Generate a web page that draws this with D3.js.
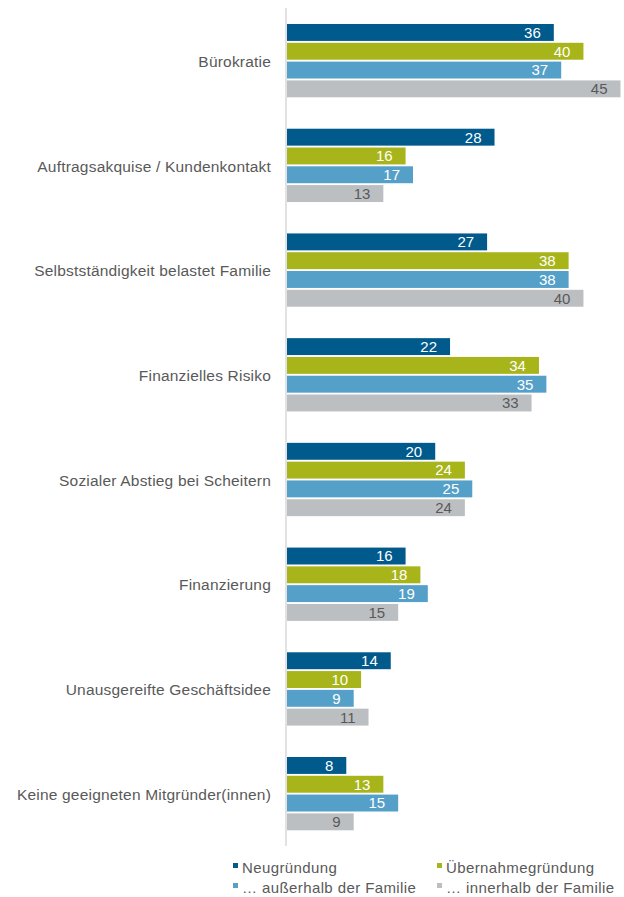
<!DOCTYPE html>
<html>
<head>
<meta charset="utf-8" />
<title>Hemmnisse</title>
<style>
* { padding: 0; margin: 0; }
body { background: #fff; }
#chart { width: 624px; height: 897px; }
text { font-family: "Liberation Sans", Arial, sans-serif; }
</style>
</head>
<body>
<div id="chart"></div>
<script src="https://cdn.jsdelivr.net/npm/d3@7/dist/d3.min.js"></script>
<script>
    var categories = ["Bürokratie", "Auftragsakquise / Kundenkontakt", "Selbstständigkeit belastet Familie",
        "Finanzielles Risiko", "Sozialer Abstieg bei Scheitern", "Finanzierung",
        "Unausgereifte Geschäftsidee", "Keine geeigneten Mitgründer(innen)"]
    var seriesNames = ["Neugründung", "Übernahmegründung", "… außerhalb der Familie", "… innerhalb der Familie"]
    var neu = [36, 28, 27, 22, 20, 16, 14, 8]
    var uebernahme = [40, 16, 38, 34, 24, 18, 10, 13]
    var ausserhalb = [37, 17, 38, 35, 25, 19, 9, 15]
    var innerhalb = [45, 13, 40, 33, 24, 15, 11, 9]
    var colors = ["#005a8c", "#a8b51a", "#55a0c8", "#bcbfc2"]
    var labelColors = ["#fff", "#fff", "#fff", "#595959"]

    var allSeries = [neu, uebernahme, ausserhalb, innerhalb]

    var svg = d3.select("#chart").append("svg").attr("width", 624).attr("height", 897)

    var x = d3.scaleLinear().domain([0, 45]).range([287, 620.5])
    var y = d3.scaleBand().domain(categories).range([8.3, 846]).paddingInner(0.3).paddingOuter(0.15)
    var ySub = d3.scaleBand().domain(d3.range(4)).range([0, y.bandwidth()]).paddingInner(0.1)

    var groups = svg.append("g").selectAll("g")
        .data(categories)
        .enter().append("g")
        .attr("transform", function(d) { return "translate(0," + y(d) + ")" })

    groups.each(function(cat, i) {
        var g = d3.select(this)
        var rows = allSeries.map(function(s, k) { return { k: k, v: s[i] } })
        g.selectAll("rect").data(rows).enter().append("rect")
            .attr("x", x(0))
            .attr("y", function(d) { return ySub(d.k) })
            .attr("width", function(d) { return x(d.v) - x(0) })
            .attr("height", ySub.bandwidth())
            .attr("fill", function(d) { return colors[d.k] })
        g.selectAll("text.val").data(rows).enter().append("text")
            .attr("class", "val")
            .attr("x", function(d) { return x(d.v) - 13 })
            .attr("y", function(d) { return ySub(d.k) + ySub.bandwidth() / 2 })
            .attr("dy", "0.36em")
            .attr("text-anchor", "end")
            .attr("font-size", 15)
            .attr("fill", function(d) { return labelColors[d.k] })
            .text(function(d) { return d.v })
    })

    // category labels
    svg.append("g").selectAll("text")
        .data(categories)
        .enter().append("text")
        .attr("x", 271)
        .attr("y", function(d) { return y(d) + y.bandwidth() / 2 })
        .attr("dy", "0.4em")
        .attr("text-anchor", "end")
        .attr("font-size", 15.5)
        .attr("letter-spacing", 0.2)
        .attr("fill", "#595959")
        .text(function(d) { return d })

    // axis line
    svg.append("line")
        .attr("x1", x(0) - 1).attr("x2", x(0) - 1)
        .attr("y1", 8).attr("y2", 846)
        .attr("stroke", "#d9d9d9").attr("stroke-width", 1.5)

    // legend
    var legPos = [[233, 868], [437, 868], [233, 888], [437, 888]]
    var leg = svg.append("g").selectAll("g")
        .data(seriesNames)
        .enter().append("g")
        .attr("transform", function(d, i) { return "translate(" + legPos[i][0] + "," + legPos[i][1] + ")" })
    leg.append("rect")
        .attr("x", 0).attr("y", -5).attr("width", 5).attr("height", 5)
        .attr("fill", function(d, i) { return colors[i] })
    leg.append("text")
        .attr("x", 9)
        .attr("y", 0)
        .attr("dy", "0.35em")
        .attr("font-size", 15)
        .attr("letter-spacing", 0.4)
        .attr("fill", "#595959")
        .text(function(d) { return d })
</script>
</body>
</html>
